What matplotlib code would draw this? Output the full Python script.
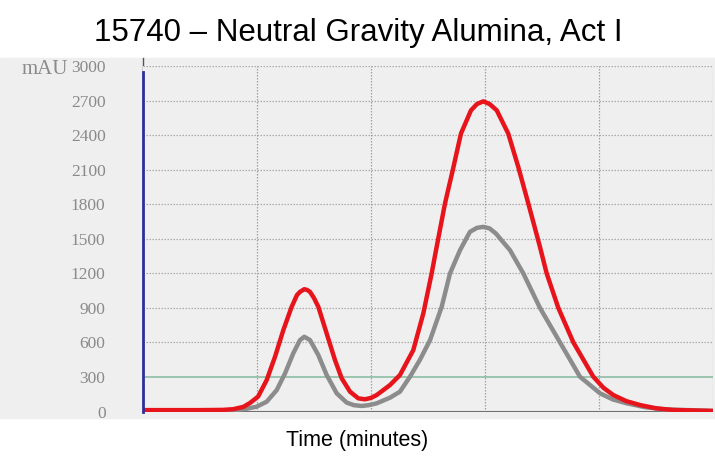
import matplotlib
matplotlib.use("Agg")
import matplotlib.pyplot as plt
from matplotlib.patches import Rectangle
from matplotlib.lines import Line2D

# chromatogram traces (time in grid units, mAU)
red_t = [0.0, 0.50, 0.70, 0.79, 0.88, 0.94, 1.01, 1.085, 1.158, 1.231, 1.304,
         1.350, 1.377, 1.415, 1.440, 1.465, 1.500, 1.538, 1.611, 1.684, 1.743,
         1.816, 1.889, 1.947, 2.00, 2.05, 2.167, 2.254, 2.371, 2.459, 2.532,
         2.576, 2.649, 2.717, 2.789, 2.877, 2.930, 2.985, 3.040, 3.103, 3.204,
         3.292, 3.380, 3.482, 3.541, 3.643, 3.775, 3.950, 4.040, 4.125, 4.240,
         4.360, 4.500, 4.652, 5.0]
red_v = [12, 12, 14, 20, 40, 75, 130, 273, 475, 707, 909,
         1010, 1039, 1062, 1055, 1039, 985, 909, 678, 447, 288,
         172, 114, 106, 118, 143, 230, 317, 533, 852, 1199,
         1430, 1806, 2095, 2413, 2615, 2670, 2693, 2670, 2615, 2413,
         2123, 1806, 1430, 1199, 900, 600, 302, 205, 143, 90,
         56, 28, 13, 5]

grey_t = [0.0, 0.50, 0.79, 0.90, 0.997, 1.085, 1.173, 1.246, 1.318, 1.377,
          1.415, 1.465, 1.538, 1.611, 1.699, 1.787, 1.850, 1.918, 1.980, 2.05,
          2.167, 2.254, 2.342, 2.430, 2.518, 2.620, 2.693, 2.781, 2.868, 2.930,
          2.985, 3.040, 3.096, 3.219, 3.336, 3.482, 3.658, 3.833, 4.009, 4.120,
          4.243, 4.400, 4.564, 5.0]
grey_v = [5, 5, 10, 22, 42, 85, 186, 331, 505, 620,
          649, 620, 490, 317, 158, 77, 55, 48, 55, 71,
          120, 172, 302, 450, 620, 909, 1199, 1401, 1560, 1595,
          1603, 1590, 1545, 1401, 1199, 900, 600, 302, 158, 105,
          71, 38, 19, 5]

y_ticks = [0, 300, 600, 900, 1200, 1500, 1800, 2100, 2400, 2700, 3000]
x_grid = [1, 2, 3, 4, 5]

BG = "#efefef"
RED = "#e8141c"
GREY = "#8c8c8c"

W, H = 715, 469
fig = plt.figure(figsize=(W / 100, H / 100), dpi=100)

# grey band behind the plot, full width
fig.patches.append(Rectangle((0, (H - 418) / H), 1, 360 / H,
                             transform=fig.transFigure, color=BG, zorder=-1))

ax = fig.add_axes([143 / W, (H - 411.5) / H, 570 / W, 345.5 / H])
ax.set_zorder(2)
ax.set_facecolor(BG)
ax.set_xlim(0, 5)
ax.set_ylim(0, 3000)

for v in y_ticks[1:]:
    if v == 300:
        ax.axhline(v, color="#86b99c", lw=1.1, zorder=1)
    else:
        ax.axhline(v, color="#aaaaaa", lw=0.9, ls=(0, (1.2, 1.2)), zorder=1)
for t in x_grid:
    ax.axvline(t, color="#a0a0a0", lw=0.9, ls=(0, (1.2, 1.2)), zorder=1)

ax.axhline(0, color="#707070", lw=1.5, zorder=2)

ax.plot(grey_t, grey_v, color=GREY, lw=3.2, solid_capstyle="round",
        solid_joinstyle="round", zorder=3)
ax.plot(red_t, red_v, color=RED, lw=3.2, solid_capstyle="round",
        solid_joinstyle="round", zorder=4)

# blue left axis line
ax.plot([0, 0], [0, 2947], color="#2e2e9e", lw=2, clip_on=False, zorder=5)
fig.add_artist(Line2D([143 / W, 143 / W], [(H - 72) / H, (H - 58) / H],
                      color="#555555", lw=1))

for s in ax.spines.values():
    s.set_visible(False)

ax.set_xticks([])
ax.set_yticks(y_ticks)
ax.set_yticklabels([str(v) for v in y_ticks], family="Liberation Serif",
                   fontsize=12.5, color="#8a8a8a")
ax.tick_params(axis="y", length=0, pad=27)

fig.text(68 / W, (H - 70) / H, "mAU", family="Liberation Serif", fontsize=15,
         color="#8a8a8a", ha="right", va="center")

fig.text(358 / W, (H - 33) / H, "15740 \u2013 Neutral Gravity Alumina, Act I",
         family="Liberation Sans", fontsize=22.5, ha="center", va="center")
fig.text(357 / W, (H - 440) / H, "Time (minutes)", family="Liberation Sans",
         fontsize=15.5, ha="center", va="center")

fig.savefig("out.png", dpi=100)
